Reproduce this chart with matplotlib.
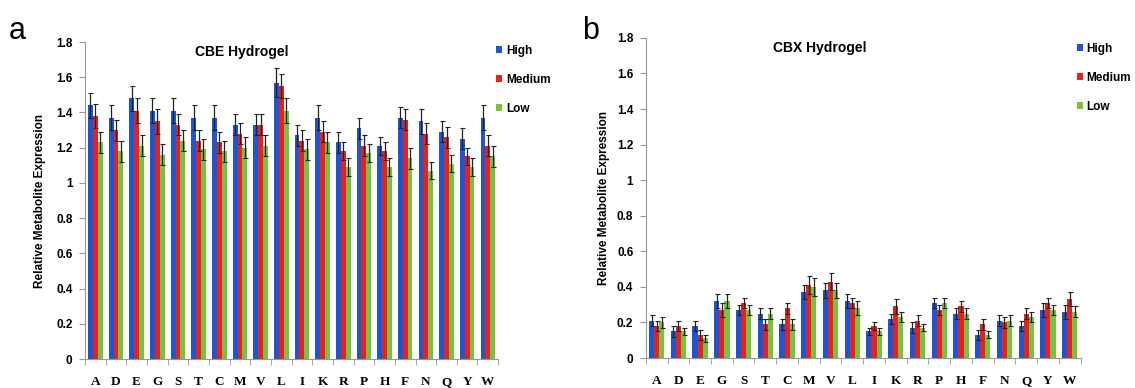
import matplotlib
matplotlib.use("Agg")
import matplotlib.pyplot as plt
import numpy as np

cats = ['A', 'D', 'E', 'G', 'S', 'T', 'C', 'M', 'V', 'L', 'I', 'K', 'R', 'P', 'H', 'F', 'N', 'Q', 'Y', 'W']

# CBE hydrogel
cbe_high = [1.44, 1.37, 1.48, 1.41, 1.41, 1.37, 1.37, 1.33, 1.33, 1.57, 1.27, 1.37, 1.23, 1.31, 1.21, 1.37, 1.35, 1.29, 1.25, 1.37]
cbe_med = [1.38, 1.30, 1.41, 1.35, 1.33, 1.24, 1.23, 1.28, 1.33, 1.55, 1.24, 1.29, 1.18, 1.21, 1.18, 1.36, 1.28, 1.26, 1.15, 1.21]
cbe_low = [1.23, 1.18, 1.21, 1.16, 1.24, 1.19, 1.18, 1.20, 1.21, 1.41, 1.19, 1.23, 1.09, 1.17, 1.09, 1.14, 1.07, 1.11, 1.09, 1.15]
cbe_high_err = [0.07, 0.07, 0.07, 0.07, 0.07, 0.07, 0.07, 0.06, 0.06, 0.08, 0.06, 0.07, 0.06, 0.06, 0.05, 0.06, 0.07, 0.06, 0.06, 0.07]
cbe_med_err = [0.07, 0.06, 0.07, 0.07, 0.06, 0.06, 0.06, 0.06, 0.06, 0.07, 0.06, 0.06, 0.05, 0.06, 0.05, 0.06, 0.06, 0.06, 0.05, 0.06]
cbe_low_err = [0.06, 0.06, 0.06, 0.06, 0.06, 0.06, 0.06, 0.06, 0.06, 0.07, 0.06, 0.06, 0.05, 0.05, 0.05, 0.06, 0.05, 0.05, 0.05, 0.06]

# CBX hydrogel
cbx_high = [0.21, 0.15, 0.18, 0.32, 0.27, 0.25, 0.19, 0.37, 0.38, 0.32, 0.15, 0.22, 0.17, 0.31, 0.25, 0.13, 0.21, 0.18, 0.27, 0.26]
cbx_med = [0.18, 0.18, 0.13, 0.27, 0.31, 0.19, 0.28, 0.41, 0.43, 0.31, 0.18, 0.29, 0.21, 0.27, 0.29, 0.19, 0.20, 0.25, 0.31, 0.33]
cbx_low = [0.20, 0.15, 0.11, 0.32, 0.27, 0.25, 0.19, 0.40, 0.38, 0.28, 0.15, 0.23, 0.17, 0.31, 0.25, 0.13, 0.21, 0.23, 0.27, 0.26]
cbx_high_err = [0.03, 0.03, 0.03, 0.04, 0.03, 0.03, 0.03, 0.04, 0.04, 0.04, 0.02, 0.03, 0.03, 0.03, 0.03, 0.03, 0.03, 0.03, 0.04, 0.04]
cbx_med_err = [0.03, 0.03, 0.03, 0.04, 0.03, 0.03, 0.03, 0.05, 0.05, 0.03, 0.02, 0.04, 0.03, 0.03, 0.03, 0.03, 0.03, 0.03, 0.03, 0.04]
cbx_low_err = [0.03, 0.02, 0.02, 0.04, 0.03, 0.03, 0.03, 0.05, 0.04, 0.04, 0.02, 0.03, 0.02, 0.03, 0.03, 0.02, 0.03, 0.03, 0.03, 0.03]

series_names = ['High', 'Medium', 'Low']
colors = ['#2154D0', '#E3231D', '#79C143']

fig = plt.figure(figsize=(11.35, 3.88), dpi=100)
ax1 = fig.add_axes([0.0749, 0.0747, 0.364, 0.817])
ax2 = fig.add_axes([0.569, 0.0773, 0.383, 0.825])


def draw_panel(ax, values, errs, title, tx, ylab_x, leg_anchor):
    x = np.arange(len(cats))
    w = 0.235
    for i, (vals, err) in enumerate(zip(values, errs)):
        ax.bar(x + (i - 1) * w, vals, w, color=colors[i], label=series_names[i],
               yerr=err, error_kw=dict(ecolor='#222222', elinewidth=0.9, capsize=1.8, capthick=0.8))
    ax.set_xlim(-0.5, len(cats) - 0.5)
    ax.set_ylim(0, 1.8)
    ax.set_yticks(np.arange(0, 1.81, 0.2))
    ax.set_yticklabels(['0', '0.2', '0.4', '0.6', '0.8', '1', '1.2', '1.4', '1.6', '1.8'],
                       fontsize=8.5, fontweight='bold', family='Liberation Sans')
    ax.set_xticks(x)
    ax.set_xticklabels(cats, fontsize=9.5, fontweight='bold', family='Liberation Serif')
    ax.set_xticks(np.arange(-0.5, len(cats), 1), minor=True)
    ax.tick_params(axis='x', which='major', length=0, pad=12)
    ax.tick_params(axis='x', which='minor', length=4, color='#999999')
    ax.tick_params(axis='y', length=4, color='#999999', pad=5)
    for s in ['top', 'right']:
        ax.spines[s].set_visible(False)
    for s in ['left', 'bottom']:
        ax.spines[s].set_color('#999999')
    ax.set_ylabel('Relative Metabolite Expression', fontsize=8.5, fontweight='bold',
                  family='Liberation Sans')
    ax.yaxis.set_label_coords(ylab_x, 0.5)
    ax.text(tx, 0.99, title, transform=ax.transAxes, ha='center', va='top',
            fontsize=10, fontweight='bold', family='Liberation Sans')
    ax.legend(loc='upper left', bbox_to_anchor=leg_anchor, bbox_transform=fig.transFigure,
              frameon=False, handlelength=0.5, handleheight=0.5, handletextpad=0.3,
              labelspacing=1.45, prop=dict(family='Liberation Sans', weight='bold', size=8.5))


draw_panel(ax1, [cbe_high, cbe_med, cbe_low], [cbe_high_err, cbe_med_err, cbe_low_err],
           'CBE Hydrogel', 0.38, -0.095, (0.428, 0.912))
draw_panel(ax2, [cbx_high, cbx_med, cbx_low], [cbx_high_err, cbx_med_err, cbx_low_err],
           'CBX Hydrogel', 0.40, -0.082, (0.9398, 0.9175))

fig.text(0.008, 0.90, 'a', fontsize=22, family='Liberation Sans')
fig.text(0.513, 0.90, 'b', fontsize=22, family='Liberation Sans')

fig.savefig('out.png', dpi=100)
